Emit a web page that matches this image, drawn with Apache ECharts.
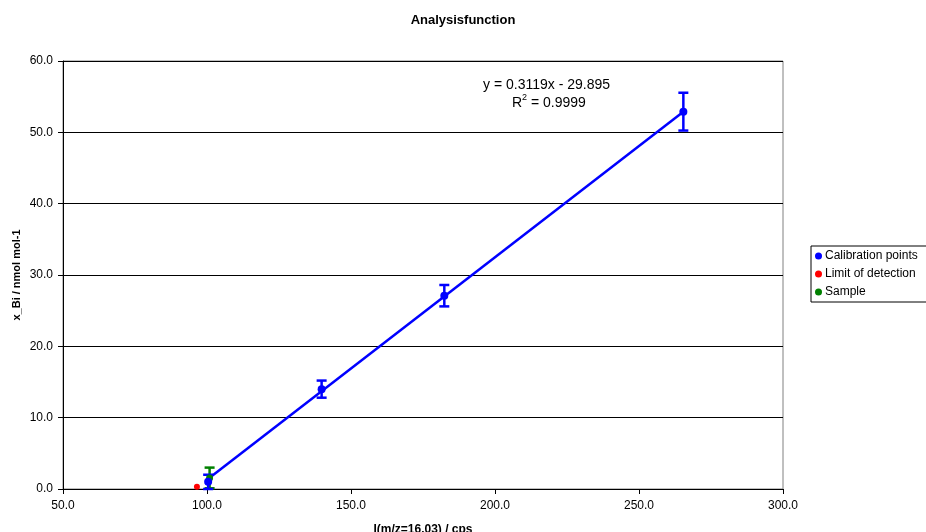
<!DOCTYPE html>
<html><head><meta charset="utf-8">
<script src="https://cdn.jsdelivr.net/npm/echarts@6/dist/echarts.min.js"></script>
<style>html,body{margin:0;padding:0;background:#fff}#c{width:926px;height:532px}</style>
</head><body><div id="c"></div>
<script>
// Data
const calX = [100.4, 139.8, 182.4, 265.4];
const calY = [1.0, 14.0, 27.1, 52.9];
const calErr = [1.0, 1.2, 1.5, 2.65];
const lodX = [96.5];
const lodY = [0.3];
const sampleX = [100.9];
const sampleY = [1.55];
const sampleErr = [1.45];
const trendX = [100.0, 265.4];
const trendY = [1.3, 52.9];
const xTicks = [50, 100, 150, 200, 250, 300];
const yTicks = [0, 10, 20, 30, 40, 50, 60];

const FONT = '"Liberation Sans", Arial, sans-serif';
const chart = echarts.init(document.getElementById('c'));

function errSeries(name, xs, ys, es, color) {
  return {
    type: 'custom', name: name + ' err', silent: true, z: 3,
    data: xs.map((x, i) => [x, ys[i] - es[i], ys[i] + es[i]]),
    renderItem: function (params, api) {
      const lo = api.coord([api.value(0), api.value(1)]);
      const hi = api.coord([api.value(0), api.value(2)]);
      const w = 5;
      const st = { stroke: color, lineWidth: 2.5 };
      return { type: 'group', children: [
        { type: 'line', shape: { x1: lo[0], y1: lo[1], x2: hi[0], y2: hi[1] }, style: st },
        { type: 'line', shape: { x1: lo[0] - w, y1: lo[1], x2: lo[0] + w, y2: lo[1] }, style: st },
        { type: 'line', shape: { x1: hi[0] - w, y1: hi[1], x2: hi[0] + w, y2: hi[1] }, style: st }
      ]};
    }
  };
}

chart.setOption({
  animation: false,
  textStyle: { fontFamily: FONT },
  title: { text: 'Analysisfunction', left: 'center', top: 9,
    textStyle: { fontSize: 13, fontWeight: 'bold', color: '#000', fontFamily: FONT } },
  grid: { left: 63, top: 61, width: 720, height: 428, show: true, borderColor: '#808080', borderWidth: 1,
    containLabel: false, outerBoundsMode: 'none' },
  legend: {
    orient: 'vertical', left: 811, top: 246, itemGap: 6,
    borderColor: '#000', borderWidth: 1, padding: [4, 20, 4, 4],
    itemWidth: 7, itemHeight: 7, icon: 'circle',
    textStyle: { fontSize: 12, color: '#000', fontFamily: FONT, padding: [0, 0, 0, -2] },
    data: ['Calibration points', 'Limit of detection', 'Sample']
  },
  xAxis: {
    type: 'value', min: 50, max: 300, interval: 50,
    name: 'I(m/z=16.03) / cps', nameLocation: 'middle', nameGap: 35,
    nameTextStyle: { fontWeight: 'bold', fontSize: 12, color: '#000' },
    axisLine: { lineStyle: { color: '#000' } },
    axisTick: { show: true, lineStyle: { color: '#000' }, length: 5 },
    axisLabel: { color: '#000', fontSize: 12, margin: 11, formatter: v => v.toFixed(1) },
    splitLine: { show: false }
  },
  yAxis: {
    type: 'value', min: 0, max: 60, interval: 10,
    axisLine: { lineStyle: { color: '#000' } },
    axisTick: { show: true, lineStyle: { color: '#000' }, length: 5 },
    axisLabel: { color: '#000', fontSize: 12, margin: 10, formatter: v => v.toFixed(1) },
    splitLine: { show: true, lineStyle: { color: '#000', width: 1 } }
  },
  graphic: [
    { type: 'text', x: 17, y: 275, rotation: Math.PI / 2,
      style: { text: 'x_Bi / nmol mol-1', fontSize: 11, fontWeight: 'bold', fill: '#000', fontFamily: FONT,
        align: 'center', verticalAlign: 'middle' } },
    { type: 'text', left: 483, top: 78, style: { text: 'y = 0.3119x - 29.895', fontSize: 14, fill: '#000', fontFamily: FONT } },
    { type: 'text', left: 512, top: 96, style: { text: 'R', fontSize: 14, fill: '#000', fontFamily: FONT } },
    { type: 'text', left: 522, top: 93, style: { text: '2', fontSize: 9, fill: '#000', fontFamily: FONT } },
    { type: 'text', left: 531, top: 96, style: { text: '= 0.9999', fontSize: 14, fill: '#000', fontFamily: FONT } }
  ],
  series: [
    { type: 'line', name: 'trend', data: trendX.map((x, i) => [x, trendY[i]]), showSymbol: false, silent: true,
      lineStyle: { color: '#0000ff', width: 2.5 }, z: 2 },
    errSeries('Sample', sampleX, sampleY, sampleErr, '#008000'),
    errSeries('Calibration points', calX, calY, calErr, '#0000ff'),
    { type: 'scatter', name: 'Sample', data: sampleX.map((x, i) => [x, sampleY[i]]),
      symbolSize: 7, itemStyle: { color: '#008000', opacity: 1 }, z: 4 },
    { type: 'scatter', name: 'Calibration points', data: calX.map((x, i) => [x, calY[i]]),
      symbolSize: 8, itemStyle: { color: '#0000ff', opacity: 1 }, z: 5 },
    { type: 'scatter', name: 'Limit of detection', data: lodX.map((x, i) => [x, lodY[i]]),
      symbolSize: 6, itemStyle: { color: '#ff0000', opacity: 1 }, z: 5 }
  ]
});
</script></body></html>
